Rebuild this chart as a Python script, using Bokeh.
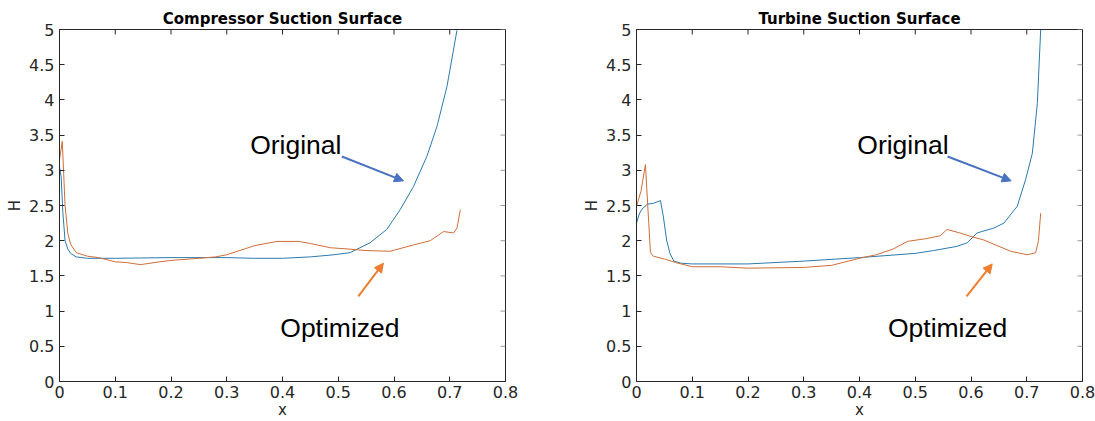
from bokeh.plotting import figure
from bokeh.layouts import row
from bokeh.models import Range1d, FixedTicker, NumeralTickFormatter, Label, Arrow, NormalHead
from bokeh.embed import file_html
from bokeh.resources import INLINE

# ---------------- data ----------------
titles = ["Compressor Suction Surface", "Turbine Suction Surface"]
x_ticks = [0, 0.1, 0.2, 0.3, 0.4, 0.5, 0.6, 0.7, 0.8]
y_ticks = [0, 0.5, 1, 1.5, 2, 2.5, 3, 3.5, 4, 4.5, 5]

comp_orig_x = [0, 0.003, 0.006, 0.01, 0.015, 0.02, 0.03, 0.05, 0.1, 0.2, 0.3, 0.35, 0.4,
               0.45, 0.492, 0.521, 0.557, 0.587, 0.611, 0.635, 0.659, 0.677, 0.695, 0.713]
comp_orig_y = [3.05, 2.9, 2.4, 2.0, 1.88, 1.82, 1.77, 1.75, 1.75, 1.76, 1.76, 1.75, 1.75,
               1.77, 1.80, 1.83, 1.97, 2.16, 2.44, 2.77, 3.2, 3.62, 4.19, 4.99]

comp_opt_x = [0, 0.005, 0.01, 0.015, 0.02, 0.03, 0.05, 0.07, 0.1, 0.12, 0.145, 0.18, 0.2,
              0.25, 0.28, 0.3, 0.35, 0.39, 0.43, 0.45, 0.486, 0.521, 0.55, 0.593, 0.635,
              0.665, 0.689, 0.707, 0.713, 0.719]
comp_opt_y = [3.15, 3.41, 2.5, 2.1, 1.95, 1.83, 1.78, 1.76, 1.7, 1.69, 1.66, 1.7, 1.72,
              1.75, 1.77, 1.8, 1.93, 1.99, 1.99, 1.96, 1.90, 1.88, 1.86, 1.85, 1.94,
              2.00, 2.13, 2.11, 2.18, 2.44]

turb_orig_x = [0, 0.005, 0.01, 0.02, 0.03, 0.043, 0.048, 0.054, 0.06, 0.067, 0.08, 0.1,
               0.2, 0.3, 0.4, 0.5, 0.533, 0.575, 0.593, 0.611, 0.641, 0.659, 0.683, 0.698,
               0.71, 0.719, 0.725]
turb_orig_y = [2.25, 2.38, 2.45, 2.52, 2.53, 2.57, 2.35, 2.01, 1.82, 1.71, 1.68, 1.67,
               1.67, 1.71, 1.76, 1.82, 1.86, 1.92, 1.97, 2.11, 2.18, 2.25, 2.49, 2.87,
               3.24, 3.95, 5.0]

turb_opt_x = [0, 0.008, 0.016, 0.022, 0.025, 0.03, 0.035, 0.05, 0.07, 0.1, 0.15, 0.2, 0.3,
              0.35, 0.4, 0.43, 0.46, 0.486, 0.52, 0.545, 0.557, 0.58, 0.6, 0.623, 0.65,
              0.671, 0.701, 0.716, 0.721, 0.725]
turb_opt_y = [2.49, 2.7, 3.08, 2.25, 1.83, 1.78, 1.77, 1.74, 1.69, 1.63, 1.63, 1.61, 1.62,
              1.65, 1.75, 1.8, 1.88, 1.99, 2.03, 2.07, 2.16, 2.11, 2.06, 2.01, 1.92,
              1.85, 1.80, 1.83, 2.0, 2.39]

# annotation positions (data units)
orig_label_x = [0.342, 0.396]
opt_label_x = [0.396, 0.451]
orig_label_y = 3.36
opt_label_y = 0.76
blue_arrow = [(0.5065, 3.196, 0.617, 2.85), (0.558, 3.196, 0.672, 2.85)]
orange_arrow = [(0.536, 1.21, 0.581, 1.68), (0.592, 1.21, 0.638, 1.67)]

BLUE = "#2b7bb0"
ORANGE = "#cf6e38"
AXC = "#262626"
FONT = "DejaVu Sans"
FRAME_W, FRAME_H = 446, 353
TICK_PX = 5


def make_panel(i, ox, oy, px, py, width, mb_left, mb_right):
    p = figure(width=width, height=421, output_backend="svg", toolbar_location=None,
               x_range=Range1d(0, 0.8), y_range=Range1d(0, 5),
               min_border_left=mb_left, min_border_right=mb_right,
               min_border_top=29, min_border_bottom=39)
    p.grid.visible = False
    p.outline_line_color = AXC
    p.outline_line_width = 1
    p.background_fill_color = "white"
    p.border_fill_color = "white"

    p.title.text = titles[i]
    p.title.align = "center"
    p.title.text_font = FONT
    p.title.text_font_size = "15px"
    p.title.text_font_style = "bold"
    p.title.text_color = "black"
    p.title.standoff = 4

    for ax in p.xaxis + p.yaxis:
        ax.axis_line_color = AXC
        ax.major_tick_line_color = AXC
        ax.major_tick_in = TICK_PX
        ax.major_tick_out = 0
        ax.minor_tick_line_color = None
        ax.major_label_text_font = FONT
        ax.major_label_text_font_size = "16px"
        ax.major_label_text_color = AXC
        ax.axis_label_text_font = FONT
        ax.axis_label_text_font_size = "15px"
        ax.axis_label_text_font_style = "normal"
        ax.axis_label_text_color = AXC
        ax.formatter = NumeralTickFormatter(format="0.[0]")
    p.xaxis.ticker = FixedTicker(ticks=x_ticks)
    p.yaxis.ticker = FixedTicker(ticks=y_ticks)
    p.xaxis.axis_label = "x"
    p.yaxis.axis_label = "H"
    p.xaxis.major_label_standoff = 4
    p.xaxis.axis_label_standoff = 0
    p.yaxis.major_label_standoff = 5
    p.yaxis.axis_label_standoff = 2

    # inward ticks on top and right edges (box style)
    dy = TICK_PX * 5 / FRAME_H
    dx = TICK_PX * 0.8 / FRAME_W
    p.segment(x0=x_ticks, y0=[5] * len(x_ticks), x1=x_ticks, y1=[5 - dy] * len(x_ticks),
              line_color=AXC, line_width=1)
    p.segment(x0=[0.8] * len(y_ticks), y0=y_ticks, x1=[0.8 - dx] * len(y_ticks), y1=y_ticks,
              line_color="#9a9a9a", line_width=1)

    p.line(ox, oy, line_color=BLUE, line_width=1)
    p.line(px, py, line_color=ORANGE, line_width=1)

    p.add_layout(Label(x=orig_label_x[i], y=orig_label_y, text="Original",
                       text_font="Liberation Sans", text_font_size="26.5px",
                       text_color="black", text_baseline="alphabetic"))
    p.add_layout(Label(x=opt_label_x[i], y=opt_label_y, text="Optimized",
                       text_font="Liberation Sans", text_font_size="26.5px",
                       text_color="black", text_baseline="alphabetic"))
    bx0, by0, bx1, by1 = blue_arrow[i]
    p.add_layout(Arrow(x_start=bx0, y_start=by0, x_end=bx1, y_end=by1,
                       line_color="#4a72c0", line_width=2,
                       end=NormalHead(size=9, fill_color="#4a72c0", line_color="#4a72c0")))
    ax0, ay0, ax1, ay1 = orange_arrow[i]
    p.add_layout(Arrow(x_start=ax0, y_start=ay0, x_end=ax1, y_end=ay1,
                       line_color="#ed7d31", line_width=2,
                       end=NormalHead(size=9, fill_color="#ed7d31", line_color="#ed7d31")))
    return p


p1 = make_panel(0, comp_orig_x, comp_orig_y, comp_opt_x, comp_opt_y, 560, 59, 55)
p2 = make_panel(1, turb_orig_x, turb_orig_y, turb_opt_x, turb_opt_y, 535, 76, 13)

layout = row(p1, p2)
open("out.html", "w").write(file_html(layout, INLINE))
